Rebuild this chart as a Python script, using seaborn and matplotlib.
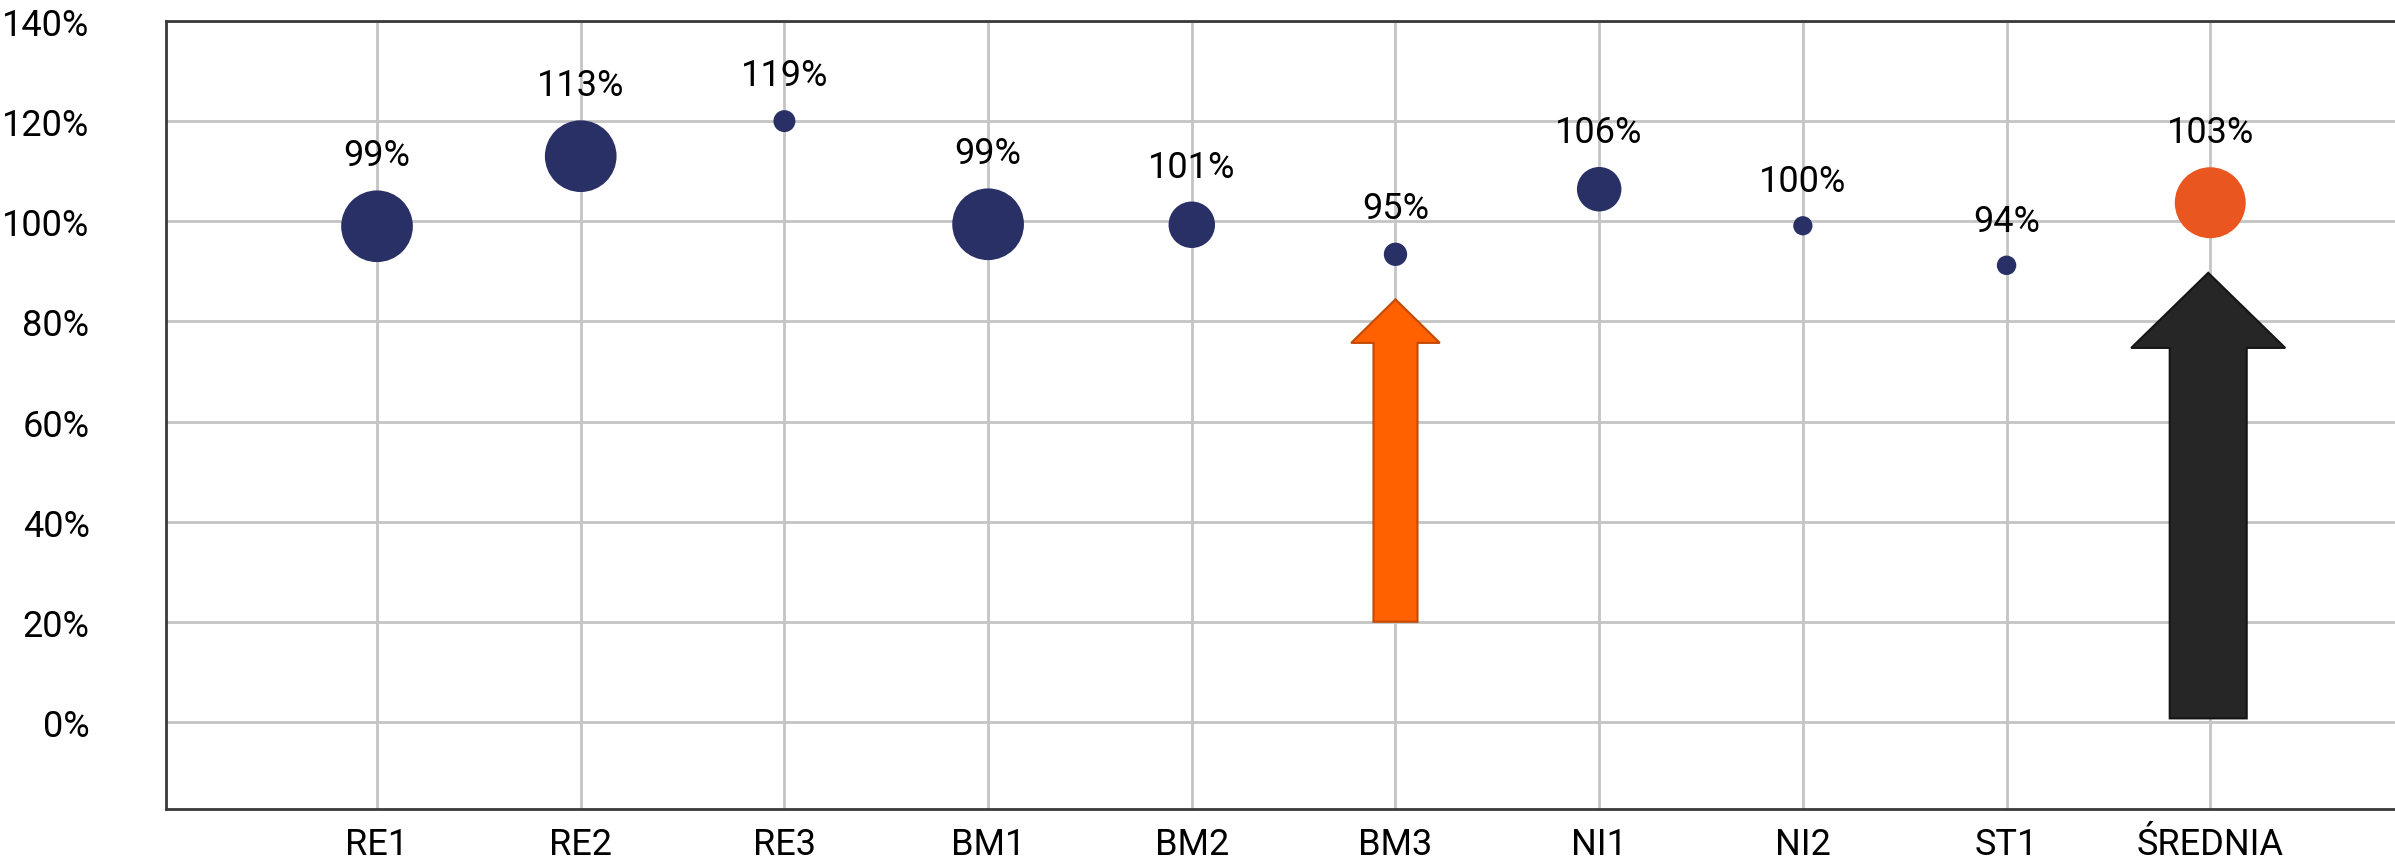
import numpy as np
import pandas as pd
import matplotlib
matplotlib.use("Agg")
import matplotlib.pyplot as plt
from matplotlib.patches import FancyArrow
import seaborn as sns

# ── Data ────────────────────────────────────────────────────────────────────
categories = ["RE1", "RE2", "RE3", "BM1", "BM2", "BM3", "NI1", "NI2", "ST1", "ŚREDNIA"]
values = [0.99, 1.13, 1.20, 0.994, 0.993, 0.934, 1.064, 0.991, 0.912, 1.037]
labels = ["99%", "113%", "119%", "99%", "101%", "95%", "106%", "100%", "94%", "103%"]
weights = [100, 100, 9.4, 100, 42, 10.6, 38.5, 7.2, 7.4, 98]
groups = ["obiekt"] * 9 + ["średnia"]

y_ticks = [0.0, 0.2, 0.4, 0.6, 0.8, 1.0, 1.2, 1.4]
y_tick_labels = ["0%", "20%", "40%", "60%", "80%", "100%", "120%", "140%"]

NAVY = "#283066"
ORANGE_DOT = "#E9561F"
ORANGE_ARROW = "#FF6000"
DARK_ARROW = "#262626"
GRID = "#C4C4C4"
FONT = ["Liberation Sans Narrow", "Roboto", "DejaVu Sans"]

sns.set_theme(style="white")
plt.rcParams["font.family"] = FONT

df = pd.DataFrame({"kategoria": categories, "wartosc": values,
                   "waga": weights, "grupa": groups})

fig = plt.figure(figsize=(23.95, 8.62), dpi=100)
ax = fig.add_axes([166 / 2395, 52 / 862, 1 - 166 / 2395, 788 / 862])

max_s = 2664  # ~72 px bubble
sns.scatterplot(data=df, x="kategoria", y="wartosc", size="waga", hue="grupa",
                sizes=(0, max_s), size_norm=(0, max(weights)),
                palette={"obiekt": NAVY, "średnia": ORANGE_DOT},
                linewidth=0, legend=False, ax=ax, zorder=5)

# ── Arrows (annotations) ────────────────────────────────────────────────────
bm3 = categories.index("BM3")
avg = categories.index("ŚREDNIA")
ax.add_patch(FancyArrow(bm3, 0.20, 0, 0.644, width=0.216, head_width=0.435,
                        head_length=0.087, length_includes_head=True,
                        facecolor=ORANGE_ARROW, edgecolor="#C44A00",
                        linewidth=1.5, zorder=4))
ax.add_patch(FancyArrow(avg - 0.01, 0.007, 0, 0.89, width=0.378, head_width=0.756,
                        head_length=0.15, length_includes_head=True,
                        facecolor=DARK_ARROW, edgecolor="#151515",
                        linewidth=1.5, zorder=4))

# ── Data labels ─────────────────────────────────────────────────────────────
for i, (v, w, lbl) in enumerate(zip(values, weights, labels)):
    r_pt = np.sqrt(max_s * w / max(weights)) / 2
    ax.annotate(lbl, (i, v), xytext=(0, r_pt + 18), textcoords="offset points",
                ha="center", va="baseline", fontsize=26, color="black",
                family=FONT, zorder=6)

# ── Axes styling ────────────────────────────────────────────────────────────
ax.set_xlim(-1.036, 9.907)
ax.set_ylim(-0.174, 1.392)
ax.set_yticks(y_ticks)
ax.set_yticklabels(y_tick_labels)
ax.set_xlabel("")
ax.set_ylabel("")
ax.tick_params(axis="y", length=0, pad=55, labelsize=26, labelcolor="black")
ax.tick_params(axis="x", length=0, pad=12, labelsize=26, labelcolor="black")

ax.grid(True, color=GRID, linewidth=2.0, zorder=0)
ax.set_axisbelow(True)
for side in ["left", "top", "bottom"]:
    ax.spines[side].set_color("#3A3A3A")
    ax.spines[side].set_linewidth(2.0)
ax.spines["right"].set_visible(False)

fig.savefig("out.png", dpi=100, facecolor="white")
